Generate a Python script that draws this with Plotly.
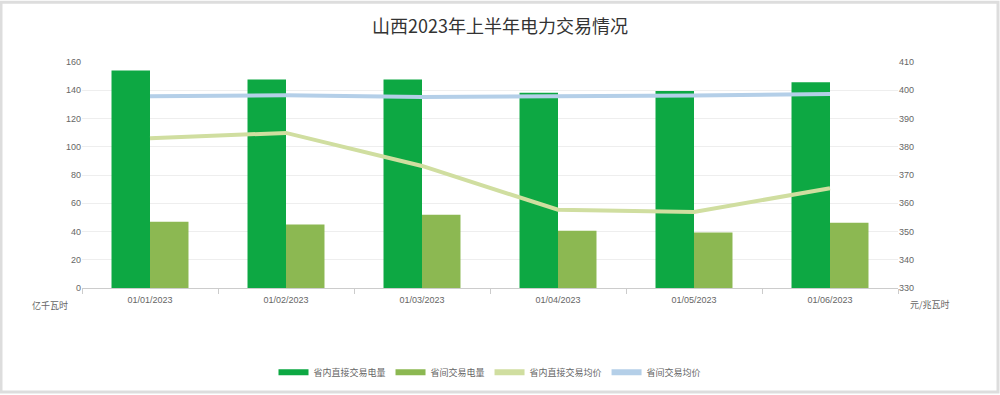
import plotly.graph_objects as go

categories = ["01/01/2023", "01/02/2023", "01/03/2023", "01/04/2023", "01/05/2023", "01/06/2023"]
intra_volume = [154.0, 147.6, 147.6, 138.2, 139.4, 145.7]
inter_volume = [46.9, 45.0, 51.8, 40.5, 39.3, 46.2]
intra_price = [383.0, 384.9, 373.2, 357.7, 356.9, 365.3]
inter_price = [397.9, 398.2, 397.6, 397.8, 398.1, 398.7]

names = ["省内直接交易电量", "省间交易电量", "省内直接交易均价", "省间交易均价"]
colors = ["#0DA843", "#8CB852", "#D0DEA0", "#B4CFE8"]

W, H = 1000, 395
L, R, T, B = 82, 102, 61.5, 106.5
pw, ph = W - L - R, H - T - B

def px(x):
    return (x - L) / pw

def py(y):
    return (H - B - y) / ph

fig = go.Figure()
fig.add_trace(go.Bar(x=categories, y=intra_volume, name=names[0], marker_color=colors[0],
                     marker_line_width=0, showlegend=False))
fig.add_trace(go.Bar(x=categories, y=inter_volume, name=names[1], marker_color=colors[1],
                     marker_line_width=0, showlegend=False))
fig.add_trace(go.Scatter(x=categories, y=intra_price, name=names[2], mode="lines",
                         line=dict(color=colors[2], width=4), yaxis="y2", showlegend=False))
fig.add_trace(go.Scatter(x=categories, y=inter_price, name=names[3], mode="lines",
                         line=dict(color=colors[3], width=4), yaxis="y2", showlegend=False))

# legend entries (wide swatches like the reference)
for n, c in zip(names, colors):
    fig.add_trace(go.Scatter(x=[None], y=[None], name=n, mode="lines",
                             line=dict(color=c, width=6), showlegend=True))

tickfont = dict(family="Liberation Sans, Arial, sans-serif", size=9, color="#666666")
cjkfont = dict(family="Noto Sans CJK SC, sans-serif", size=9, color="#666666")

fig.update_layout(
    width=W, height=H,
    margin=dict(l=L, r=R, t=T, b=B, autoexpand=False),
    paper_bgcolor="white", plot_bgcolor="white",
    barmode="group", bargap=0.434, bargroupgap=0,
    title=dict(text="山西2023年上半年电力交易情况", x=0.5, xanchor="center",
               y=1 - 27 / H, yanchor="middle",
               font=dict(family="Noto Sans CJK SC, sans-serif", size=18, color="#333333")),
    xaxis=dict(type="category", tickfont=tickfont, showgrid=False,
               showline=True, linecolor="#CCCCCC", linewidth=1,
               ticks="outside", tickson="boundaries", tickcolor="#CCCCCC", ticklen=5,
               ticklabelstandoff=3, zeroline=False, automargin=False),
    yaxis=dict(range=[0, 160], dtick=20, tickfont=tickfont, showgrid=True,
               gridcolor="#EEEEEE", gridwidth=1, zeroline=False, ticks="", showline=False,
               automargin=False),
    yaxis2=dict(range=[330, 410], dtick=10, overlaying="y", side="right",
                tickfont=tickfont, showgrid=False, zeroline=False, showline=False,
                automargin=False),
    legend=dict(orientation="h", x=0.5, xanchor="center", y=py(373), yanchor="middle",
                font=cjkfont, bgcolor="rgba(0,0,0,0)"),
    annotations=[
        dict(text="亿千瓦时", x=px(50), y=py(306), xref="paper", yref="paper",
             xanchor="center", yanchor="middle", showarrow=False, font=cjkfont),
        dict(text="元/兆瓦时", x=px(930), y=py(305), xref="paper", yref="paper",
             xanchor="center", yanchor="middle", showarrow=False, font=cjkfont),
    ],
    shapes=[
        dict(type="rect", xref="paper", yref="paper",
             x0=px(1), x1=px(W - 2), y0=py(H - 2), y1=py(1.5),
             line=dict(color="#DDDDDD", width=3), fillcolor="rgba(0,0,0,0)", layer="below"),
    ],
)

fig.write_html("out.html", config={"displayModeBar": False},
               post_script="document.body.style.margin='0px';document.body.style.overflow='hidden';")
